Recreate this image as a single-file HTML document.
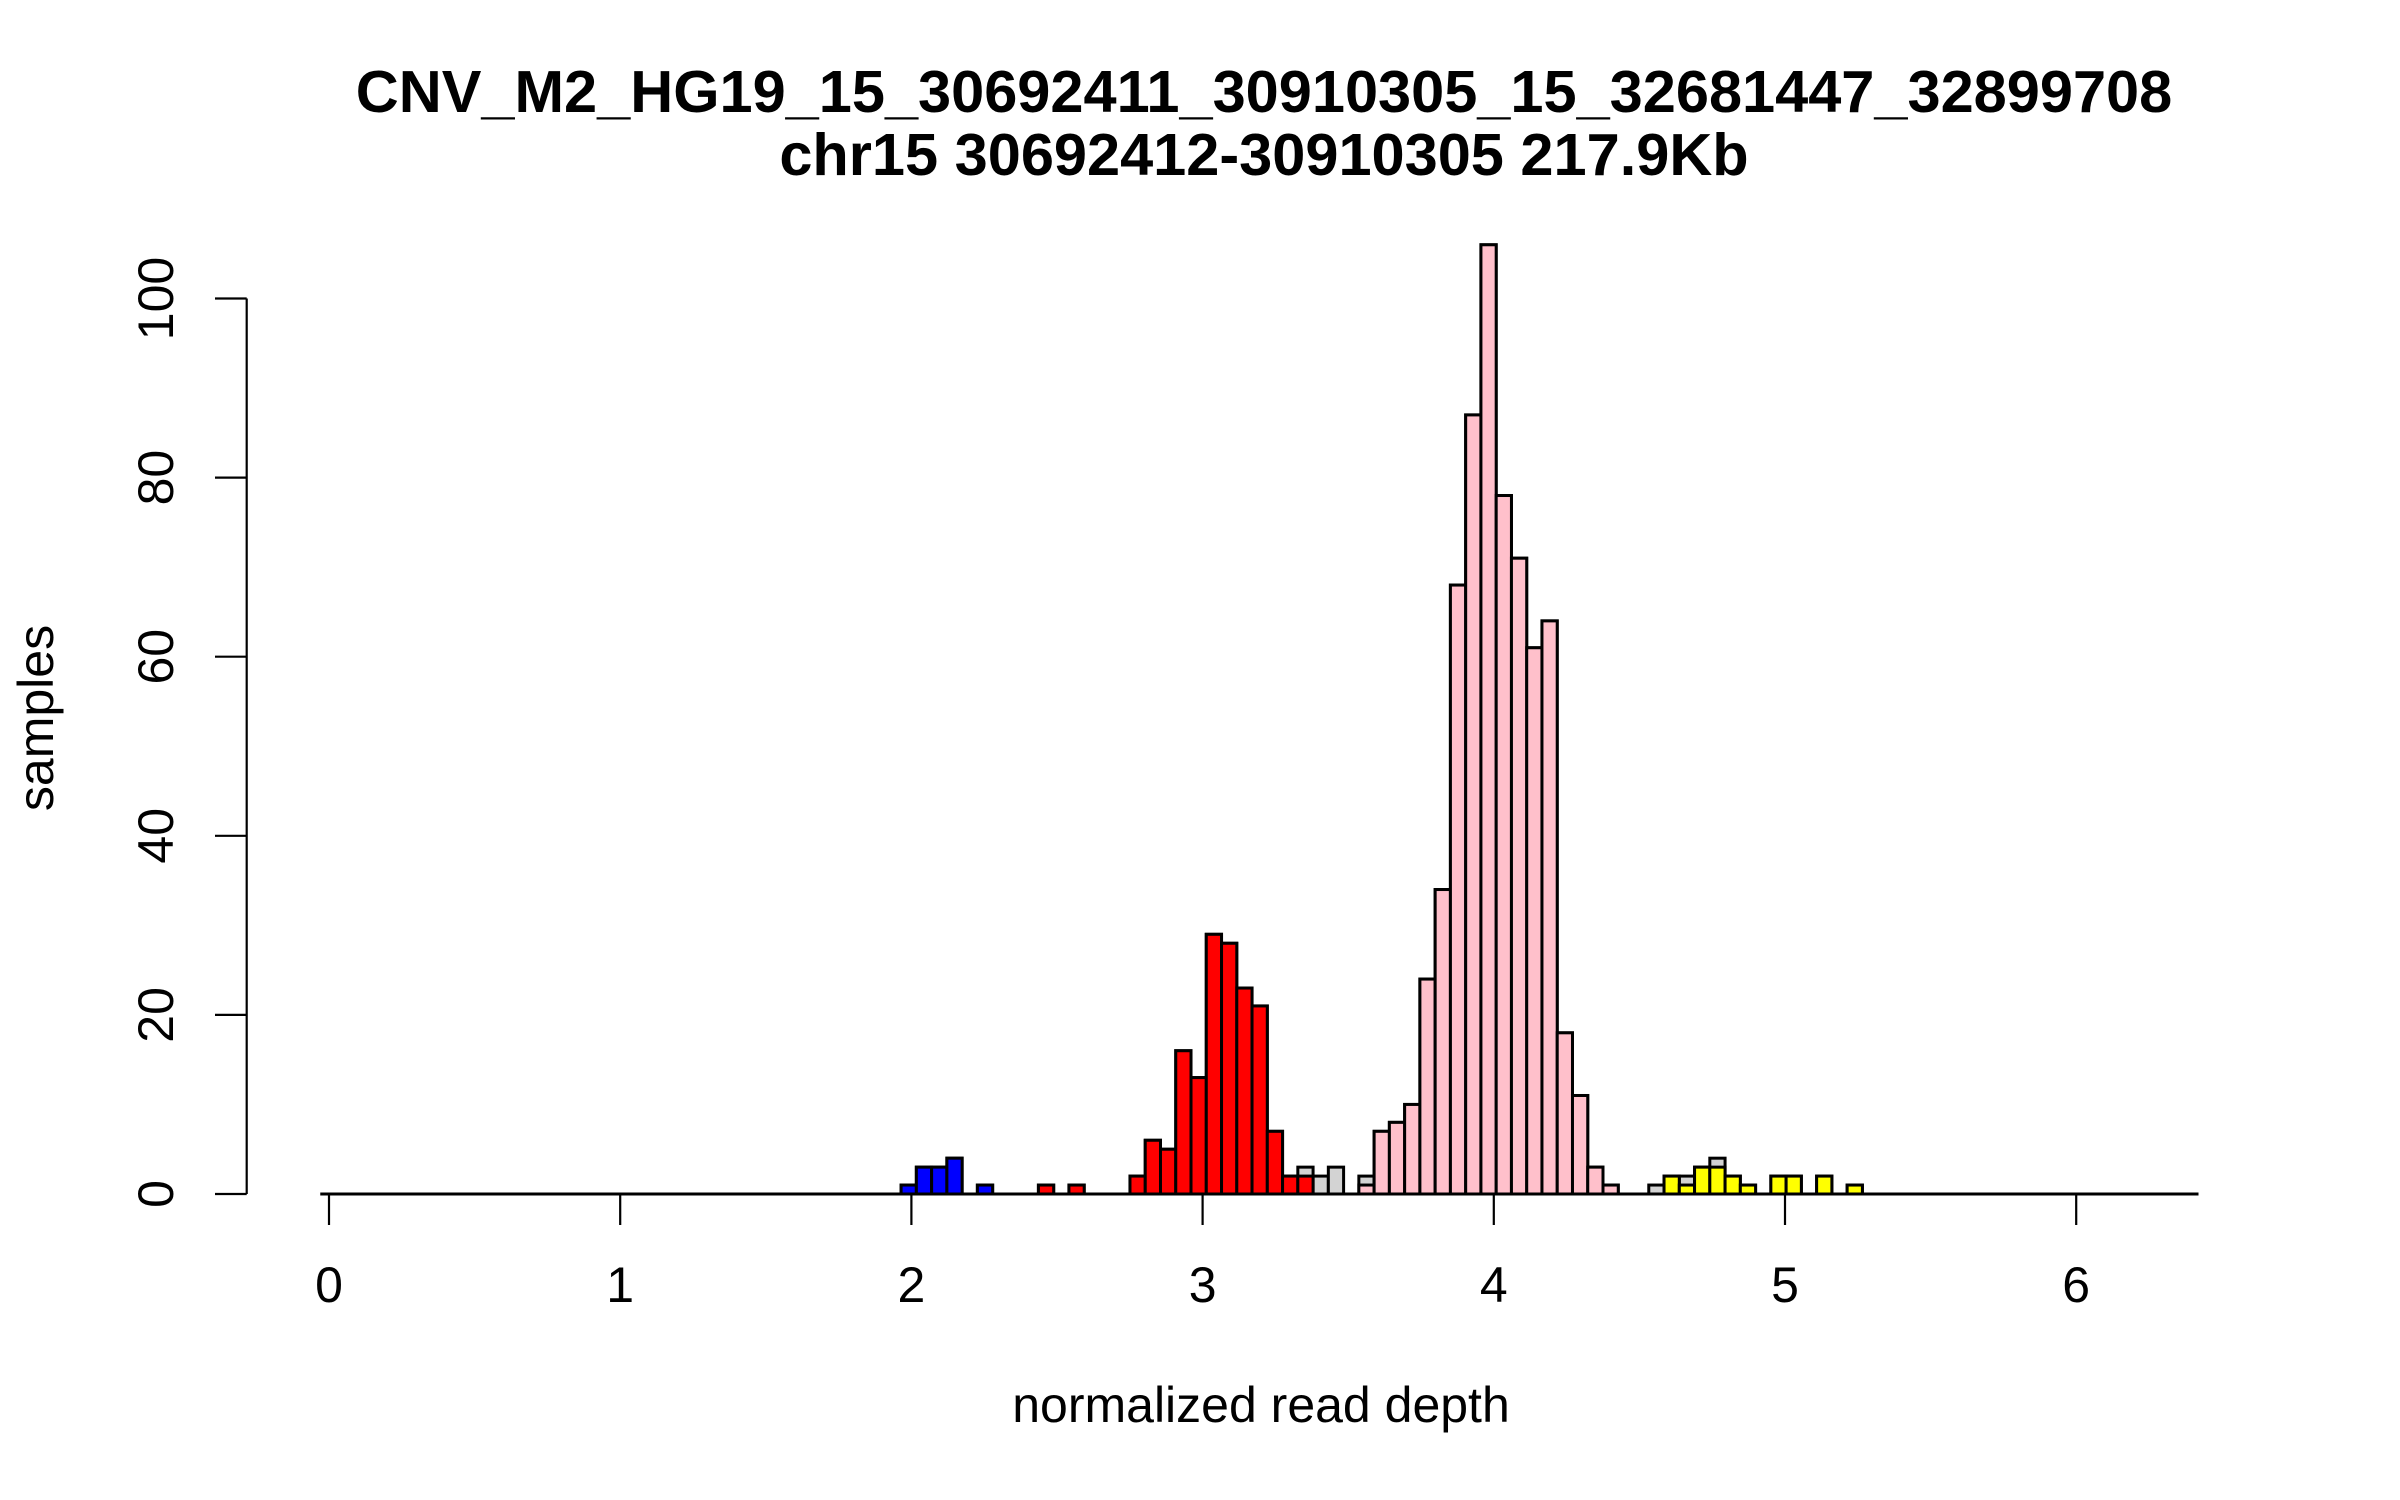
<!DOCTYPE html>
<html><head><meta charset="utf-8"><style>
html,body{margin:0;padding:0;background:#fff;}
svg{display:block;font-family:"Liberation Sans",sans-serif;}
</style></head><body>
<svg id="chart" width="2400" height="1500" viewBox="0 0 2400 1500" xmlns="http://www.w3.org/2000/svg">
<rect width="2400" height="1500" fill="#fff"/>
<text x="1264" y="112" font-size="59.5" font-weight="bold" text-anchor="middle">CNV_M2_HG19_15_30692411_30910305_15_32681447_32899708</text>
<text x="1264" y="175" font-size="59.5" font-weight="bold" text-anchor="middle">chr15 30692412-30910305 217.9Kb</text>
<text x="1261" y="1422" font-size="50" text-anchor="middle">normalized read depth</text>
<text x="0" y="0" font-size="50" text-anchor="middle" transform="translate(53,718) rotate(-90)">samples</text>
<g id="grey-bars"></g>
<g id="color-bars"></g>
<g id="axes"></g>
</svg>
<script>
// Histogram data (bin index from first bin edge)
const binStart = 1.9646;
const binWidth = 0.0524;
const totals = [1,3,3,4,0,1,0,0,0,1,0,1,0,0,0,2,6,5,16,13,29,28,23,21,7,2,3,2,3,0,2,7,8,10,24,34,68,87,106,78,71,61,64,18,11,3,1,0,0,1,2,2,3,4,2,1,0,2,2,0,2,0,1];
const blueCounts = [1,3,3,4,0,1];          // bins 0..5
const redCounts = [1,0,1,0,0,0,2,6,5,16,13,29,28,23,21,7,2,2]; // bins 9..26
const pinkCounts = [1,7,8,10,24,34,68,87,106,78,71,61,64,18,11,3,1]; // bins 30..46
const yellowCounts = [2,1,3,3,2,1,0,2,2,0,2,0,1]; // bins 50..62
const blueStart = 0, redStart = 9, pinkStart = 30, yellowStart = 50;
const xTicks = [0,1,2,3,4,5,6];
const yTicks = [0,20,40,60,80,100];
const xRange = [-0.03, 6.42];

const NS = "http://www.w3.org/2000/svg";
const X0 = 329, XS = 291.2, Y0 = 1194, YS = 8.955;
function sx(v){ return X0 + v*XS; }
function sy(v){ return Y0 - v*YS; }
function mk(tag, attrs, parent){
  const e = document.createElementNS(NS, tag);
  for (const k in attrs) e.setAttribute(k, attrs[k]);
  parent.appendChild(e); return e;
}
const grey = document.getElementById('grey-bars');
const col = document.getElementById('color-bars');
const axes = document.getElementById('axes');

const base = mk('line', {x1:sx(xRange[0]), x2:sx(xRange[1]), y1:Y0, y2:Y0, stroke:'#000','stroke-width':3}, grey);



function bar(parent, idx, count, fill, name){
  if (count <= 0) return;
  const x = sx(binStart + idx*binWidth);
  const w = binWidth*XS;
  const r = mk('rect', {x:x, y:sy(count), width:w, height:count*YS, fill:fill, stroke:'#000','stroke-width':3}, parent);
  
  
}
totals.forEach((c,i)=>bar(grey, i, c, '#d3d3d3', 'bar-all-' + i));
blueCounts.forEach((c,i)=>bar(col, blueStart+i, c, '#0000ff', 'bar-blue-' + i));
redCounts.forEach((c,i)=>bar(col, redStart+i, c, '#ff0000', 'bar-red-' + i));
pinkCounts.forEach((c,i)=>bar(col, pinkStart+i, c, '#ffc0cb', 'bar-pink-' + i));
yellowCounts.forEach((c,i)=>bar(col, yellowStart+i, c, '#ffff00', 'bar-yellow-' + i));

const ya = mk('line', {x1:246.7, x2:246.7, y1:sy(yTicks[yTicks.length-1]), y2:sy(yTicks[0]), stroke:'#000','stroke-width':2.2}, axes);


yTicks.forEach(t=>{
  const l = mk('line', {x1:215, x2:246.7, y1:sy(t), y2:sy(t), stroke:'#000','stroke-width':2.2}, axes);
  
  
  const tx = mk('text', {x:0, y:0, 'font-size':50, 'text-anchor':'middle', transform:'translate(173,'+sy(t)+') rotate(-90)'}, axes);
  tx.textContent = t;
  
  
});
xTicks.forEach(t=>{
  const l = mk('line', {x1:sx(t), x2:sx(t), y1:Y0, y2:1225, stroke:'#000','stroke-width':2.2}, axes);
  
  
  const tx = mk('text', {x:sx(t), y:1302, 'font-size':50, 'text-anchor':'middle'}, axes);
  tx.textContent = t;
  
  
});
</script>
</body></html>
